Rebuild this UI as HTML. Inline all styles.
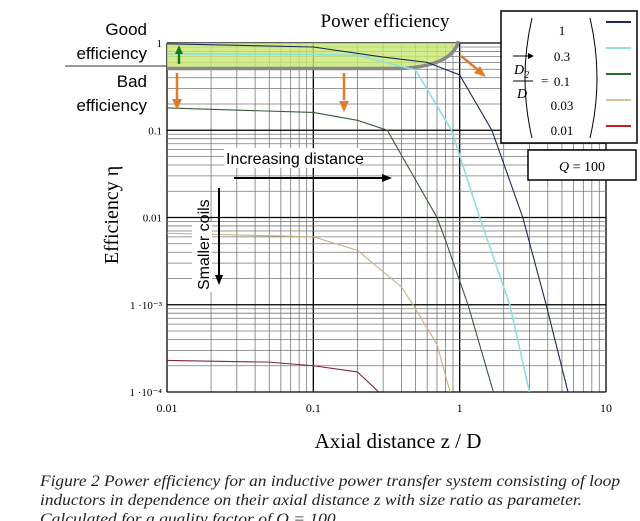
<!DOCTYPE html>
<html><head><meta charset="utf-8">
<style>
body{margin:0;background:#fff;width:640px;height:521px;overflow:hidden;}
svg{display:block}
.ser{font-family:"Liberation Serif",serif}
.san{font-family:"Liberation Sans",sans-serif}
</style></head>
<body>
<svg id="chart" width="640" height="521" viewBox="0 0 640 521">
<g id="grid"></g>
<g id="band"></g>
<g id="series"></g>
<g id="ticks"></g>
<text class="ser" x="385" y="27" font-size="19" text-anchor="middle">Power efficiency</text>
<text class="san" x="147" y="35" font-size="17" text-anchor="end">Good</text>
<text class="san" x="147" y="59" font-size="17" text-anchor="end">efficiency</text>
<line x1="65" y1="66" x2="167" y2="66" stroke="#333" stroke-width="1"/>
<text class="san" x="147" y="87" font-size="17" text-anchor="end">Bad</text>
<text class="san" x="147" y="111" font-size="17" text-anchor="end">efficiency</text>
<text class="ser" transform="translate(118,215) rotate(-90)" font-size="20" text-anchor="middle">Efficiency η</text>
<text class="ser" x="398" y="448" font-size="21" text-anchor="middle">Axial distance z / D</text>
<rect x="224" y="148" width="136" height="20" fill="#fff"/>
<text class="san" x="226" y="164" font-size="16">Increasing distance</text>
<line x1="234" y1="178" x2="383" y2="178" stroke="#000" stroke-width="2"/>
<polygon points="392,178 382,174 382,182" fill="#000"/>
<rect x="192" y="222" width="20" height="70" fill="#fff"/>
<text class="san" transform="translate(209,290) rotate(-90)" font-size="16">Smaller coils</text>
<line x1="219" y1="188" x2="219" y2="276" stroke="#000" stroke-width="2"/>
<polygon points="219,285 215,275 223,275" fill="#000"/>
<g stroke="#e07b2a" stroke-width="2.5" fill="#e07b2a">
<line x1="177" y1="73" x2="177" y2="100"/><polygon points="177,110 172,99 182,99" stroke="none"/>
<line x1="344" y1="73" x2="344" y2="100"/><polygon points="344,112 339,101 349,101" stroke="none"/>
<line x1="461" y1="56" x2="478" y2="70"/><polygon points="486,77 474,73 480,66" stroke="none"/>
</g>
<line x1="179" y1="64" x2="179" y2="52" stroke="#1a7a1a" stroke-width="2.5"/>
<polygon points="179,45 175,54 183,54" fill="#1a7a1a"/>
<g>
<rect x="501" y="11" width="136" height="132" fill="#fff" stroke="#000" stroke-width="1.5"/>
<line x1="513" y1="56" x2="530" y2="56" stroke="#000"/>
<polygon points="534,56 528,53 528,59" fill="#000"/>
<text class="ser" x="514" y="74" font-size="14" font-style="italic">D<tspan font-size="10" dy="4">2</tspan></text>
<line x1="513" y1="81" x2="533" y2="81" stroke="#000"/>
<text class="ser" x="517" y="98" font-size="14" font-style="italic">D</text>
<text class="ser" x="541" y="85" font-size="13">=</text>
<path d="M532,18 Q518,78 532,138" fill="none" stroke="#000"/>
<path d="M590,18 Q604,78 590,138" fill="none" stroke="#000"/>
<text class="ser" x="562" y="35" font-size="13" text-anchor="middle">1</text>
<text class="ser" x="562" y="61" font-size="13" text-anchor="middle">0.3</text>
<text class="ser" x="562" y="86" font-size="13" text-anchor="middle">0.1</text>
<text class="ser" x="562" y="110" font-size="13" text-anchor="middle">0.03</text>
<text class="ser" x="562" y="135" font-size="13" text-anchor="middle">0.01</text>
<line x1="606" y1="22" x2="631" y2="22" stroke="#1c2a5a" stroke-width="2"/>
<line x1="606" y1="48" x2="631" y2="48" stroke="#8ee0e0" stroke-width="2"/>
<line x1="606" y1="74" x2="631" y2="74" stroke="#2a6a2a" stroke-width="2"/>
<line x1="606" y1="100" x2="631" y2="100" stroke="#d8c090" stroke-width="2"/>
<line x1="606" y1="126" x2="631" y2="126" stroke="#c02020" stroke-width="2"/>
</g>
<rect x="528" y="150" width="108" height="30" fill="#fff" stroke="#000" stroke-width="1.5"/>
<text class="ser" x="582" y="171" font-size="14" text-anchor="middle"><tspan font-style="italic">Q</tspan> = 100</text>
<g class="ser" font-size="16" font-style="italic" fill="#222">
<text x="40" y="486" textLength="580" lengthAdjust="spacingAndGlyphs">Figure 2 Power efficiency for an inductive power transfer system consisting of loop</text>
<text x="40" y="505" textLength="542" lengthAdjust="spacingAndGlyphs">inductors in dependence on their axial distance z with size ratio as parameter.</text>
<text x="40" y="524" textLength="300" lengthAdjust="spacingAndGlyphs">Calculated for a quality factor of Q = 100.</text>
</g>
</svg>
<script>
const xTickVals=[0.01,0.1,1,10];
const xTickLabels=["0.01","0.1","1","10"];
const yTickVals=[1,0.1,0.01,0.001,0.0001];
const yTickLabels=["1","0.1","0.01","1 ·10⁻³","1 ·10⁻⁴"];
const z1=[0.01,0.1,0.3,0.6,1,1.66,2.7,3.9,5.5];
const eta1=[0.98,0.9,0.69,0.6,0.43,0.1,0.01,0.001,0.0001];
const z03=[0.01,0.1,0.2,0.5,0.88,1.37,2.2,3.0];
const eta03=[0.75,0.74,0.72,0.49,0.1,0.01,0.001,0.0001];
const z01=[0.01,0.1,0.2,0.32,0.7,0.8,1.14,1.7];
const eta01=[0.18,0.16,0.13,0.1,0.01,0.0055,0.001,0.0001];
const z003=[0.01,0.1,0.2,0.4,0.48,0.7,0.86];
const eta003=[0.0066,0.006,0.0042,0.0016,0.001,0.00035,0.0001];
const z001=[0.01,0.05,0.1,0.2,0.28];
const eta001=[0.00023,0.00022,0.0002,0.00017,0.0001];
const colors=["#1c2a5a","#8ee0e0","#3a5a3a","#c8b080","#7a2a3a"];

const X0=167,X1=606,Y0=43,Y1=392;
const xs=v=>X0+(Math.log10(v)+2)/3*(X1-X0);
const ys=v=>Y0+(-Math.log10(v))/4*(Y1-Y0);
const NS="http://www.w3.org/2000/svg";
function mk(t,a,p){const e=document.createElementNS(NS,t);for(const k in a)e.setAttribute(k,a[k]);p.appendChild(e);return e;}
const grid=document.getElementById('grid');
for(let d=-2;d<1;d++)for(let m=1;m<10;m++){const v=m*Math.pow(10,d);const x=xs(v);
 const l=mk('line',{x1:x,x2:x,y1:Y0,y2:Y1,stroke:m==1?'#000':'#777','stroke-width':m==1?1.3:0.8},grid);
 
 }
mk('line',{x1:X1,x2:X1,y1:Y0,y2:Y1,stroke:'#000','stroke-width':1.3},grid);
for(let d=-4;d<0;d++)for(let m=1;m<10;m++){const v=m*Math.pow(10,d);const y=ys(v);
 const l=mk('line',{x1:X0,x2:X1,y1:y,y2:y,stroke:'#777','stroke-width':0.8},grid);
 
 }
yTickVals.forEach(v=>{const l=mk('line',{x1:X0,x2:X1,y1:ys(v),y2:ys(v),stroke:'#000','stroke-width':1.3},grid);
 
 });
const band=document.getElementById('band');
const b=mk('path',{d:`M${X0},${Y0} L${xs(0.95)},${Y0} Q${xs(0.9)},${ys(0.6)} ${xs(0.5)},${ys(0.51)} L${X0},${ys(0.51)} Z`,fill:'#c8e870','fill-opacity':0.8},band);


const bl=mk('path',{d:`M${X0},${ys(0.51)} L${xs(0.4)},${ys(0.51)} Q${xs(0.9)},${ys(0.55)} ${xs(0.98)},${Y0-2}`,fill:'none',stroke:'#888','stroke-width':3.5},band);


const ser=document.getElementById('series');
const sets=[[z1,eta1],[z03,eta03],[z01,eta01],[z003,eta003],[z001,eta001]];
const names=['series-1','series-0.3','series-0.1','series-0.03','series-0.01'];
sets.forEach((s,i)=>{const pts=s[0].map((z,j)=>xs(z)+','+ys(s[1][j])).join(' ');
 const p=mk('polyline',{points:pts,fill:'none',stroke:colors[i],'stroke-width':i==1?1.6:1.1},ser);
 
 });
const tk=document.getElementById('ticks');
xTickVals.forEach((v,i)=>{const t=mk('text',{x:xs(v),y:412,'font-size':12,'text-anchor':'middle','font-family':'Liberation Serif,serif'},tk);t.textContent=xTickLabels[i];
 
 });
yTickVals.forEach((v,i)=>{const t=mk('text',{x:X0-5,y:ys(v)+4,'font-size':11,'text-anchor':'end','font-family':'Liberation Serif,serif'},tk);t.textContent=yTickLabels[i];
 
 });
</script>
</body></html>
